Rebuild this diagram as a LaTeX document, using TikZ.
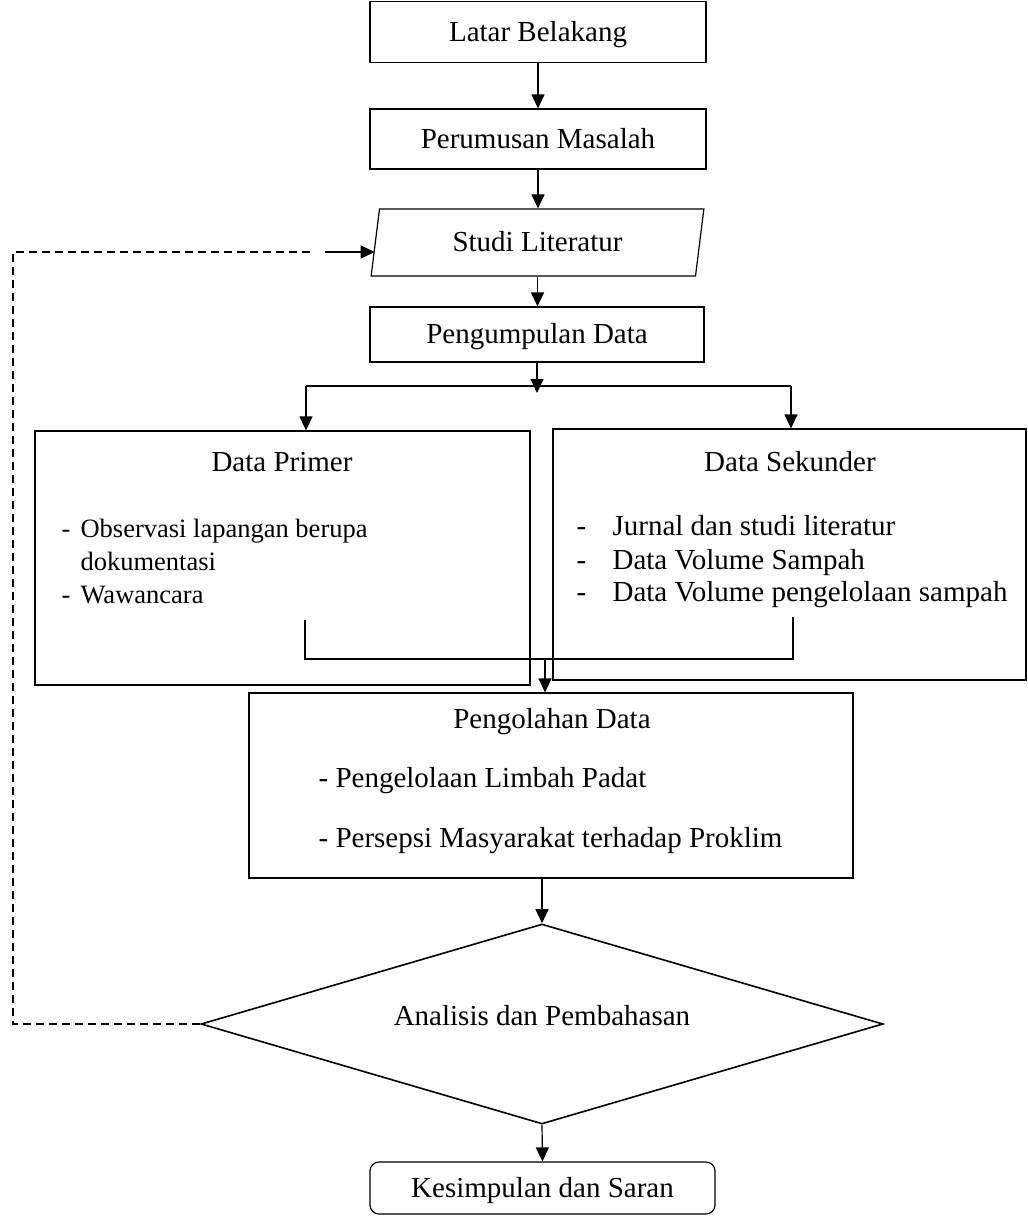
\documentclass[tikz,border=0pt]{standalone}
\usepackage{fontspec}
\setmainfont{Liberation Serif}
\usetikzlibrary{arrows.meta,shapes.geometric}
\newcommand{\fsz}{\fontsize{29}{34}\selectfont}
\newcommand{\fsm}{\fontsize{26.5}{31}\selectfont}
\begin{document}
\begin{tikzpicture}[x=1pt,y=-1pt,line width=1.2pt,
  box/.style={draw,rectangle,inner sep=0pt,font=\fsz,text height=18pt,text depth=0pt},
  txt/.style={inner sep=0pt,font=\fsz,anchor=base west},
  stxt/.style={inner sep=0pt,font=\fsm,anchor=base west},
  ttl/.style={inner sep=0pt,font=\fsz,anchor=base},
  arr/.style={-{Triangle[width=13pt,length=14pt]}},
  fbdash/.style={dash pattern=on 8pt off 5pt}]
\useasboundingbox (0,0) rectangle (1028,1216);
% nodes
\node[box,minimum width=336pt,minimum height=61pt] (latar) at (538,32) {Latar Belakang};
\node[box,minimum width=336pt,minimum height=60pt] (perumusan) at (538,139) {Perumusan Masalah};
\node[draw,trapezium,trapezium left angle=76,trapezium right angle=104,trapezium stretches=true,
      minimum width=333pt,minimum height=67pt,inner sep=0pt,font=\fsz,text height=18pt,text depth=0pt] (studi) at (537.5,242.5) {Studi Literatur};
\node[box,minimum width=334pt,minimum height=55pt] (pengumpulan) at (537,334.5) {Pengumpulan Data};
\node[box,minimum width=495pt,minimum height=254pt] (primer) at (282.5,558) {};
\node[box,minimum width=473pt,minimum height=251pt] (sekunder) at (789.5,554.5) {};
\node[box,minimum width=604pt,minimum height=185pt] (pengolahan) at (551,785.5) {};
\node[draw,diamond,line width=1.6pt,minimum width=682pt,minimum height=200pt,inner sep=0pt] (dia) at (542,1024) {};
\node[box,rounded corners=9pt,minimum width=345pt,minimum height=52pt] (kes) at (542.5,1188) {Kesimpulan dan Saran};
% texts
\node[ttl] (ptitle) at (282,471) {Data Primer};
\node[stxt] (pd1) at (61,537) {-};
\node[stxt] (p1) at (80,537) {Observasi lapangan berupa};
\node[stxt] (p2) at (80,570) {dokumentasi};
\node[stxt] (pd2) at (61,603) {-};
\node[stxt] (p3) at (80,603) {Wawancara};
\node[ttl] (stitle) at (790,471) {Data Sekunder};
\node[txt] (sd1) at (576,535) {-};
\node[txt] (s1) at (612,535) {Jurnal dan studi literatur};
\node[txt] (sd2) at (576,569) {-};
\node[txt] (s2) at (612,569) {Data Volume Sampah};
\node[txt] (sd3) at (576,601) {-};
\node[txt] (s3) at (612,601) {Data Volume pengelolaan sampah};
\node[ttl] (otitle) at (552,728) {Pengolahan Data};
\node[txt] (o1) at (318,787) {- Pengelolaan Limbah Padat};
\node[txt] (o2) at (318,847) {- Persepsi Masyarakat terhadap Proklim};
\node[ttl] (atext) at (542,1025) {Analisis dan Pembahasan};
% coordinates
\coordinate (splittip) at (537,393);
\coordinate (bl) at (306,386);
\coordinate (br) at (791,386);
\coordinate (ml) at (305,620);
\coordinate (mr) at (793,617);
\coordinate (mj) at (545,659);
\coordinate (fb) at (13,252);
\coordinate (fe) at (310,252);
\coordinate (fs) at (325,252);
% connectors
\draw[arr] (latar.south) -- (perumusan.north);
\draw[arr] (perumusan.south) -- (perumusan.south |- studi.north);
\draw[arr] (studi.south) -- (studi.south |- pengumpulan.north);
\draw (bl) -- (br);
\draw[arr] (pengumpulan.south) -- (splittip);
\draw[arr] (bl) -- (bl |- primer.north);
\draw[arr] (br) -- (br |- sekunder.north);
\draw (ml) |- (mj) -| (mr);
\draw[arr] (mj) -- (mj |- pengolahan.north);
\draw[arr] (dia.north |- pengolahan.south) -- (dia.north);
\draw[arr] (dia.south) -- (kes.north);
\draw[fbdash] (dia.west) -| (fb) -- (fe);
\draw[arr] (fs) -- (fs -| studi.west);
\end{tikzpicture}
\end{document}
